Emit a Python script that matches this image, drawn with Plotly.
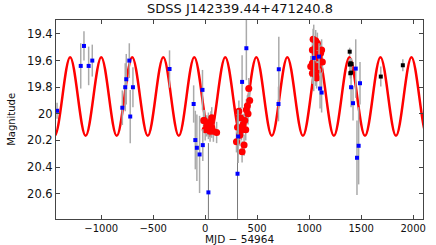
import plotly.graph_objects as go

# ---- model curve: extrema ----
model_peak_mjd = [-1597, -1299, -1000, -702, -403, -105, 193, 492, 790, 1089, 1387, 1686, 1984, 2283]
model_trough_mjd = [-1448, -1150, -851, -552, -254, 44, 343, 641, 940, 1238, 1537, 1835, 2134]
model_peak_mag = 19.575
model_trough_mag = 20.165

# ---- blue points ----
blue_mjd = [-1425, -1166, -1197, -1121, -1086, -797, -769, -759, -730, -721, -695,
            -343, -111, -26, -95, -80, -54, -23, 355, 317, 396, 708, 705,
            1044, 1095, 1105, 1120, 1403, 1422, 1448, 1489, 1476, 1460]
blue_mag = [19.977, 19.49, 19.64, 19.64, 19.60, 19.954, 19.80, 19.74, 19.60, 20.02, 19.80,
            19.663, 19.926, 19.82, 20.197, 20.255, 20.305, 20.235, 19.76, 20.17, 19.507, 19.665, 19.926,
            19.58, 19.57, 19.81, 19.84, 19.80, 19.92, 19.66, 19.77, 20.24, 20.33]
blue_err = [0.06, 0.11, 0.17, 0.145, 0.12, 0.13, 0.18, 0.19, 0.13, 0.2, 0.15,
            0.14, 0.14, 0.15, 0.22, 0.25, 0.29, 0.12, 0.2, 0.2, 0.24, 0.245, 0.13,
            0.25, 0.1, 0.15, 0.15, 0.15, 0.13, 0.22, 0.16, 0.29, 0.28]

# blue points with very large errors (drawn with darker bars)
blue_big_mjd = [31, 311]
blue_big_mag = [20.59, 20.45]
blue_big_err = [0.37, 0.48]

# ---- black points ----
black_mjd = [1390, 1396, 1408, 1392, 1403, 1396, 1689, 1901]
black_mag = [19.533, 19.62, 19.625, 19.63, 19.69, 19.695, 19.72, 19.635]
black_err = [0.03, 0.04, 0.04, 0.04, 0.04, 0.04, 0.075, 0.045]

# ---- red points ----
red_mjd = [-16, -7, 0, 15, 31, 31, 47, 55, 63, 63, 79, 110,
           419, 428, 406, 412, 324, 381, 365, 311, 349, 301, 374, 355, 396, 333, 390, 340,
           1038, 1063, 1079, 1063, 1031, 1110, 1063, 1095, 1127, 1031, 1079, 1031, 1063, 1095,
           1015, 1072, 1050, 1120]
red_mag = [20.05, 20.05, 20.12, 20.09, 20.07, 20.11, 20.13, 20.06, 20.03, 20.10, 20.13, 20.14,
           19.81, 19.90, 19.94, 20.0, 19.98, 20.05, 20.08, 20.10, 20.12, 20.21, 20.235, 20.285, 19.97, 20.16, 20.12, 20.03,
           19.44, 19.45, 19.47, 19.50, 19.52, 19.545, 19.55, 19.58, 19.61, 19.62, 19.645, 19.695, 19.71, 19.67,
           19.645, 19.73, 19.66, 19.52]
red_err = [0.08] * len(red_mjd)

xticks = [-1000, -500, 0, 500, 1000, 1500, 2000]
yticks = [19.4, 19.6, 19.8, 20.0, 20.2, 20.4, 20.6]
ytick_text = ["19.4", "19.6", "19.8", "20", "20.2", "20.4", "20.6"]

# build sorted extrema for curve
model_pts = sorted([(t, model_peak_mag) for t in model_peak_mjd] +
                   [(t, model_trough_mag) for t in model_trough_mjd])
model_x = [p[0] for p in model_pts]
model_y = [p[1] for p in model_pts]

grey = "rgb(170,170,170)"
fig = go.Figure()
fig.add_trace(go.Scatter(x=model_x, y=model_y, mode="lines",
                         line=dict(color="red", width=2.5, shape="spline", smoothing=1.0),
                         hoverinfo="skip"))
fig.add_trace(go.Scatter(x=red_mjd, y=red_mag, mode="markers",
                         error_y=dict(type="data", array=red_err, color=grey, thickness=1.5, width=0),
                         marker=dict(color="red", size=7, symbol="circle")))
fig.add_trace(go.Scatter(x=blue_big_mjd, y=blue_big_mag, mode="markers",
                         error_y=dict(type="data", array=blue_big_err, color="rgb(120,120,120)", thickness=1, width=0),
                         marker=dict(color="blue", size=4, symbol="square")))
fig.add_trace(go.Scatter(x=blue_mjd, y=blue_mag, mode="markers",
                         error_y=dict(type="data", array=blue_err, color=grey, thickness=1.5, width=0),
                         marker=dict(color="blue", size=4, symbol="square")))
fig.add_trace(go.Scatter(x=black_mjd, y=black_mag, mode="markers",
                         error_y=dict(type="data", array=black_err, color=grey, thickness=1.5, width=0),
                         marker=dict(color="black", size=4, symbol="square")))

axis_col = "#444"
fig.update_layout(
    width=436, height=245,
    margin=dict(l=56, r=10, t=20, b=26),
    paper_bgcolor="white", plot_bgcolor="white",
    showlegend=False,
    font=dict(family="DejaVu Sans", color="#111"),
    xaxis=dict(range=[-1435, 2095], tickvals=xticks, ticks="inside", ticklen=4,
               tickcolor=axis_col, showline=True, linecolor=axis_col, linewidth=1,
               mirror="ticks", showgrid=False, zeroline=False,
               tickfont=dict(size=10)),
    yaxis=dict(range=[20.79, 19.295], tickvals=yticks, ticktext=ytick_text, ticks="inside",
               ticklen=4, tickcolor=axis_col, showline=True, linecolor=axis_col, linewidth=1,
               mirror="ticks", showgrid=False, zeroline=False,
               tickfont=dict(size=11.5)),
    annotations=[
        dict(text="SDSS J142339.44+471240.8", x=0.5, y=1.06, xref="paper", yref="paper",
             xanchor="center", yanchor="middle", showarrow=False, font=dict(size=13)),
        dict(text="MJD \u2212 54964", x=0.5, y=-0.103, xref="paper", yref="paper",
             xanchor="center", yanchor="middle", showarrow=False, font=dict(size=10.5)),
        dict(text="Magnitude", x=-0.1216, y=0.5, xref="paper", yref="paper", textangle=-90,
             xanchor="center", yanchor="middle", showarrow=False, font=dict(size=10)),
    ],
)

fig.write_html("out.html", config={"displayModeBar": False},
               post_script="document.body.style.margin='0';document.body.style.padding='0';")
